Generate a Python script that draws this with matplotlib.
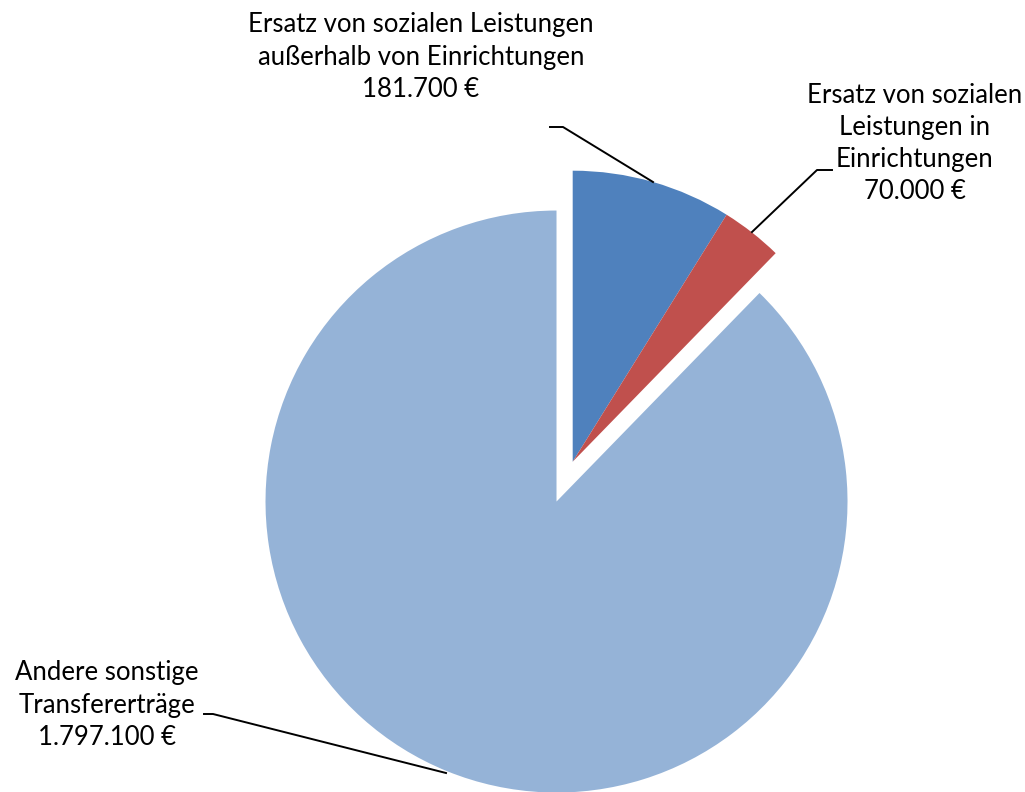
import matplotlib
matplotlib.use("Agg")
import matplotlib.pyplot as plt

labels = ["Ersatz von sozialen Leistungen\naußerhalb von Einrichtungen\n181.700 €",
          "Ersatz von sozialen\nLeistungen in\nEinrichtungen\n70.000 €",
          "Andere sonstige\nTransfererträge\n1.797.100 €"]
values = [181700, 70000, 1797100]
colors = ["#4F81BD", "#C0504D", "#95B3D7"]

W, H = 1025, 792
fig = plt.figure(figsize=(W / 100, H / 100), dpi=100)
ax = fig.add_axes([0, 0, 1, 1])

def Y(y):
    return H - y

cx, cy, r = 572.7, 461.7, 291
ax.pie(values, colors=colors, startangle=90, counterclock=False,
       explode=[0, 0, 43], center=(cx, Y(cy)), radius=r,
       wedgeprops=dict(linewidth=0))
ax.set_xlim(0, W)
ax.set_ylim(0, H)
ax.set_aspect("equal")
ax.axis("off")

fs = 18.5
fpx = fs * 100 / 72
ls = 35 / fpx
font = dict(family=["Lato", "DejaVu Sans"], fontsize=fs, ha="center", va="center",
            linespacing=ls, color="black")

ax.text(421, Y(57), labels[0], **font)
ax.text(915, Y(143.5), labels[1], **font)
ax.text(107, Y(705), labels[2], **font)

lw = 1.4
ax.plot([550, 563, 653], [Y(127), Y(127), Y(182)], color="black", lw=lw)
ax.plot([832, 817, 752], [Y(170), Y(170), Y(232)], color="black", lw=lw)
ax.plot([204, 213, 446], [Y(714), Y(714), Y(773)], color="black", lw=lw)

fig.savefig("out.png", dpi=100)
